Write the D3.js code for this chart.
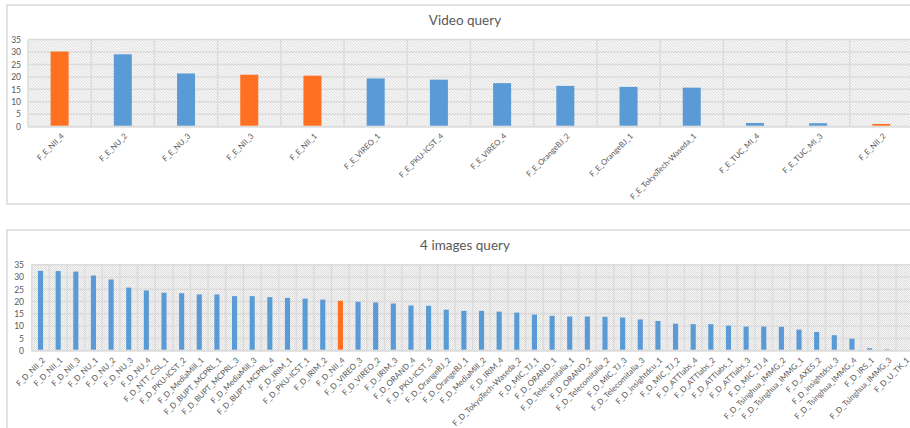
<!DOCTYPE html>
<html>
<head>
<meta charset="utf-8">
<script src="https://cdn.jsdelivr.net/npm/d3@7"></script>
<style>
  html, body { margin: 0; padding: 0; background: #fff; }
  svg { display: block; }
  .tick-label { font-family: Lato, "Open Sans", sans-serif; fill: #595959; }
  .title { font-family: Lato, "Open Sans", sans-serif; fill: #595959; }
</style>
</head>
<body>
<svg id="chart" width="910" height="428"></svg>
<script>
// ---- Video query results ----
const videoCategories = [
  "F_E_NII_4", "F_E_NU_2", "F_E_NU_3", "F_E_NII_3", "F_E_NII_1", "F_E_VIREO_1",
  "F_E_PKU-ICST_4", "F_E_VIREO_4", "F_E_OrangeBJ_2", "F_E_OrangeBJ_1",
  "F_E_TokyoTech-Waseda_1", "F_E_TUC_MI_4", "F_E_TUC_MI_3", "F_E_NII_2"
];
const videoValues = [30.2, 29.1, 21.4, 20.9, 20.5, 19.4, 18.9, 17.5, 16.4, 16.0, 15.7, 1.5, 1.4, 1.1];
const videoHighlight = ["F_E_NII_4", "F_E_NII_3", "F_E_NII_1", "F_E_NII_2"];

// ---- 4 images query results ----
const imageCategories = [
  "F_D_NII_2", "F_D_NII_1", "F_D_NII_3", "F_D_NU_1", "F_D_NU_2", "F_D_NU_3", "F_D_NU_4",
  "F_D_NTT_CSL_1", "F_D_PKU-ICST_2", "F_D_MediaMill_1", "F_D_BUPT_MCPRL_1",
  "F_D_BUPT_MCPRL_3", "F_D_MediaMill_3", "F_D_BUPT_MCPRL_4", "F_D_IRIM_1",
  "F_D_PKU-ICST_1", "F_D_IRIM_2", "F_D_NII_4", "F_D_VIREO_3", "F_D_VIREO_2",
  "F_D_IRIM_3", "F_D_ORAND_4", "F_D_PKU-ICST_5", "F_D_OrangeBJ_2", "F_D_OrangeBJ_1",
  "F_D_MediaMill_2", "F_D_IRIM_4", "F_D_TokyoTech-Waseda_2", "F_D_MIC_TJ_1",
  "F_D_ORAND_1", "F_D_Telecomitalia_1", "F_D_ORAND_2", "F_D_Telecomitalia_2",
  "F_D_MIC_TJ_3", "F_D_Telecomitalia_3", "F_D_insightdcu_1", "F_D_MIC_TJ_2",
  "F_D_ATTlabs_4", "F_D_ATTlabs_2", "F_D_ATTlabs_1", "F_D_ATTlabs_3", "F_D_MIC_TJ_4",
  "F_D_Tsinghua_IMMG_2", "F_D_Tsinghua_IMMG_1", "F_D_AXES_2", "F_D_insightdcu_3",
  "F_D_Tsinghua_IMMG_4", "F_D_IRS_1", "F_D_Tsinghua_IMMG_3", "F_D_U_TK_1"
];
const imageValues = [
  32.5, 32.4, 32.2, 30.6, 29.0, 25.7, 24.5, 23.6, 23.4, 22.9, 22.9,
  22.2, 22.2, 21.8, 21.5, 21.2, 20.8, 20.3, 19.9, 19.6,
  19.2, 18.4, 18.3, 16.7, 16.2, 16.2, 15.9, 15.5, 14.7,
  14.2, 13.9, 13.9, 13.8, 13.5, 12.7, 12.1, 11.0,
  10.8, 10.8, 10.2, 9.8, 9.8, 9.7, 8.6, 7.6, 6.3,
  4.9, 1.0, 0.6, 0
];
const imageHighlight = ["F_D_NII_4"];

const yTicks = [0, 5, 10, 15, 20, 25, 30, 35];

const BLUE = "#5B9BD5";
const ORANGE = "#FF7020";
const GRID = "#DCDCDC";

const svg = d3.select("#chart");
const defs = svg.append("defs");

// diagonal hatch fill for the video panel
const hatch = defs.append("pattern")
  .attr("id", "hatch").attr("patternUnits", "userSpaceOnUse")
  .attr("width", 3).attr("height", 3);
hatch.append("rect").attr("width", 3).attr("height", 3).attr("fill", "#F5F5F5");
hatch.append("path").attr("d", "M-1,-1 L4,4 M-1,2 L1,4 M2,-1 L4,1")
  .attr("stroke", "#DADADA").attr("stroke-width", 0.8);

// fine dotted fill for the image panel
const dots = defs.append("pattern")
  .attr("id", "dots").attr("patternUnits", "userSpaceOnUse")
  .attr("width", 2).attr("height", 2);
dots.append("rect").attr("width", 2).attr("height", 2).attr("fill", "#F4F4F4");
dots.append("rect").attr("width", 1).attr("height", 1).attr("fill", "#DCDCDC");
dots.append("rect").attr("x", 1).attr("y", 1).attr("width", 1).attr("height", 1).attr("fill", "#E4E4E4");

function drawPanel(cfg) {
  const g = svg.append("g");

  // panel frame
  g.append("rect")
    .attr("x", cfg.box[0]).attr("y", cfg.box[1])
    .attr("width", cfg.box[2]).attr("height", cfg.box[3])
    .attr("fill", "#fff").attr("stroke", "#D9D9D9").attr("stroke-width", 1.5);

  g.append("text").attr("class", "title")
    .attr("x", cfg.titleX).attr("y", cfg.titleY)
    .attr("text-anchor", "middle")
    .attr("font-size", 13.5)
    .text(cfg.title);

  const x = d3.scaleBand().domain(cfg.categories).range([cfg.x0, cfg.x1]).paddingInner(0).paddingOuter(0);
  const y = d3.scaleLinear().domain([0, 35]).range([cfg.yBottom, cfg.yTop]);

  // plot background
  g.append("rect")
    .attr("x", cfg.x0).attr("y", y(35))
    .attr("width", cfg.x1 - cfg.x0).attr("height", y(0) - y(35))
    .attr("fill", `url(#${cfg.pattern})`);

  // vertical grid at category boundaries
  const bounds = cfg.categories.map(c => x(c)).concat([cfg.x1]);
  g.append("g").selectAll("line").data(bounds).join("line")
    .attr("x1", d => d).attr("x2", d => d)
    .attr("y1", y(35)).attr("y2", y(0))
    .attr("stroke", GRID).attr("stroke-width", 1.5);

  // horizontal grid
  g.append("g").selectAll("line").data(yTicks).join("line")
    .attr("x1", cfg.x0).attr("x2", cfg.x1)
    .attr("y1", d => y(d)).attr("y2", d => y(d))
    .attr("stroke", GRID).attr("stroke-width", d => d === 0 ? 2 : 1.5);

  // y axis labels
  const yAxis = d3.axisLeft(y).tickValues(yTicks).tickSize(0).tickPadding(0);
  const ya = g.append("g").attr("transform", `translate(${cfg.yLabelX},0)`).call(yAxis);
  ya.select(".domain").remove();
  ya.selectAll("text").attr("class", "tick-label").attr("font-size", 8.5)
    .attr("font-family", "Lato, 'Open Sans', sans-serif").attr("fill", "#595959");

  // bars
  const bw = x.bandwidth() * cfg.barRatio;
  g.append("g").selectAll("rect").data(cfg.categories).join("rect")
    .attr("x", (d) => x(d) + (x.bandwidth() - bw) / 2)
    .attr("width", bw)
    .attr("y", (d, i) => y(cfg.values[i]))
    .attr("height", (d, i) => y(0) - y(cfg.values[i]) - 1)
    .attr("fill", d => cfg.highlight.includes(d) ? ORANGE : BLUE);

  // rotated category labels
  const xAxis = d3.axisBottom(x).tickSize(0).tickPadding(0);
  const xa = g.append("g").attr("transform", `translate(0,${cfg.yBottom})`).call(xAxis);
  xa.select(".domain").remove();
  xa.selectAll("text")
    .attr("class", "tick-label")
    .attr("font-size", cfg.labelSize)
    .attr("font-family", "Lato, 'Open Sans', sans-serif")
    .attr("fill", "#6A6A6A")
    .attr("text-anchor", "end")
    .attr("dy", "0.35em")
    .attr("transform", `translate(${cfg.labelDx},${cfg.labelDy}) rotate(-45)`);
}

drawPanel({
  title: "Video query", titleX: 465, titleY: 25,
  box: [7, 5, 930, 199],
  categories: videoCategories, values: videoValues, highlight: videoHighlight,
  x0: 28, x1: 913, yTop: 39.6, yBottom: 126.7,
  yLabelX: 21, barRatio: 0.285, pattern: "hatch",
  labelSize: 7.8, labelDx: 3, labelDy: 8
});

drawPanel({
  title: "4 images query", titleX: 465, titleY: 250,
  box: [7, 230, 930, 250],
  categories: imageCategories, values: imageValues, highlight: imageHighlight,
  x0: 31.7, x1: 913.7, yTop: 264.7, yBottom: 350.7,
  yLabelX: 24, barRatio: 0.29, pattern: "dots",
  labelSize: 8, labelDx: 3, labelDy: 8
});
</script>
</body>
</html>
